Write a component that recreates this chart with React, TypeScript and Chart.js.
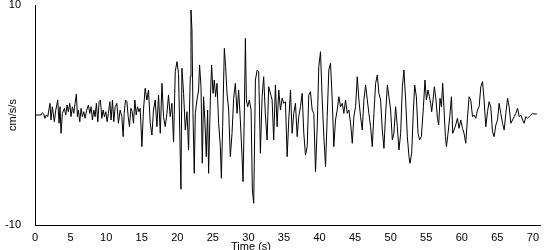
import { useEffect, useRef } from "react";
import { Chart, registerables } from "chart.js";

Chart.register(...registerables);

// Time (s) of each sample
const timeS = [
  0, 0.85, 1.03, 1.23, 1.41, 1.59, 1.79, 2.11, 2.25, 2.44, 2.72, 2.92, 3.2, 3.38, 3.52, 3.66, 3.85, 4.13, 4.32, 4.51, 4.69, 4.89, 5.07, 5.25, 5.45, 5.63, 5.82, 5.96, 6.1, 6.3, 6.48, 6.66, 6.86, 7.04, 7.28, 7.51, 7.7, 7.89, 8.07, 8.27, 8.45, 8.63, 8.83, 9.01, 9.2, 9.39, 9.58, 9.76, 9.96, 10.14, 10.32, 10.52, 10.7, 10.89, 11.08, 11.27, 11.51, 11.73, 11.97, 12.21, 12.39,
  12.54, 12.72, 12.92, 13.1, 13.28, 13.48, 13.66, 13.85, 14.04, 14.23, 14.41, 14.61, 14.79,
  15.03, 15.25, 15.49, 15.73, 15.96, 16.2, 16.44, 16.66, 16.9, 17.14, 17.37, 17.61, 17.85, 18.07, 18.31, 18.55, 18.77, 19.01, 19.25, 19.48, 19.72, 19.96, 20.18, 20.52, 20.66, 20.89, 21.13, 21.37, 21.59, 21.83, 21.93, 22.07, 22.21, 22.39, 22.54, 22.77, 23.0, 23.14, 23.34, 23.52, 23.7, 23.9, 24.08, 24.27, 24.41, 24.65, 24.83, 25.03, 25.21, 25.39, 25.59, 25.82, 26.06, 26.2, 26.38, 26.62, 26.8, 27.0, 27.23, 27.46, 27.7, 27.93, 28.17, 28.41, 28.63, 28.87, 29.11, 29.25, 29.44, 29.58, 29.72, 29.9, 30.14, 30.38, 30.56, 30.75, 30.99, 31.23, 31.45, 31.69, 31.93, 32.15, 32.39, 32.63, 32.86,
  33.34, 33.56, 33.8, 34.04, 34.27, 34.51, 34.75, 34.97, 35.21, 35.45, 35.68, 35.92, 36.15, 36.38, 36.62, 36.86, 37.08, 37.32, 37.56, 37.79, 38.03, 38.27, 38.49, 38.73, 38.97, 39.2, 39.44, 39.68, 39.9, 40.14, 40.38, 40.61, 40.85, 41.08, 41.31, 41.55, 41.79, 42.01, 42.25, 42.49, 42.72, 42.96, 43.2, 43.42, 43.66, 43.9, 44.13, 44.37, 44.61, 44.83, 45.07, 45.31, 45.54, 45.77, 46.01, 46.24, 46.48, 46.72, 46.94, 47.18, 47.42, 47.65, 47.89, 48.13, 48.35, 48.59, 48.83, 49.06, 49.3, 49.54, 49.76, 50.0, 50.24, 50.46, 50.7, 50.94, 51.17, 51.41,
  51.65, 51.87, 52.11, 52.35, 52.58, 52.72, 52.96, 53.2, 53.38, 53.62, 53.85, 54.08, 54.32, 54.61, 54.83, 55.03, 55.25, 55.45, 55.63, 55.77, 55.96, 56.15, 56.38, 56.58, 56.76, 56.94, 57.14, 57.32, 57.51, 57.7, 57.85, 58.07, 58.31, 58.55, 58.73, 58.92, 59.15, 59.39, 59.62, 59.86, 60.1, 60.32, 60.56, 60.8, 61.03, 61.27, 61.51, 61.73, 61.97, 62.21, 62.44, 62.68, 62.92, 63.14, 63.38, 63.62, 63.85, 64.08, 64.32, 64.55, 64.79, 65.03, 65.25, 65.49, 65.73, 65.96, 66.2, 66.44, 66.66, 66.9, 67.14, 67.37, 67.61, 67.85, 68.07, 68.31, 68.55, 68.77, 69.01, 69.25, 69.48, 69.72, 69.96, 70.18, 70.56,
];

// Acceleration (cm/s/s) at each of those times
const accel = [
  0, 0, 0.21, 0.09, -0.3, 0, -0.15, 1.06, -0.45, 0.75, -0.61, 0.45, 1.36, -0.75, 0.75, -1.66, 0.15, 0.61, 0, 0.91, 0.3, 1.06, -0.15, 0.75, 0.15, 1.06, 1.91, -0.15, 0.45, -0.61, 0.61, -0.15, 0.3, -0.3, 0.45, 0.91, 0.15, 0.75, -0.45, 0.45, -0.15, 1.06, -0.61, 1.21, 1.36, -0.3, 0.45, -0.15, 0.3, -0.61, 0.15, 1.21, -0.45, 1.36, -0.61, 0.75, 1.06, -0.75, 0.45, -0.15, -1.97,
  0.15, 1.36, 1.21, -0.15, -1.06, 0.61, 0.3, -0.75, 1.36, 0, 0.75, 0.3, 0.61,
  -2.88, 0.45, 2.43, 1.36, 2.27, -0.75, -1.82, 0.45, 1.36, -1.06, 1.82, -1.66, 2.88, -0.15, -1.06, 0.15, 1.82, -0.15, 1.06, -2.43, 3.94, 4.85, 3.79, -6.75, 4.25, 1.97, -1.36, 0.3, -3.18, 3.48, 9.55, 7.73, 0.15, -5.3, 0.15, 1.36, 2.27, 4.55, 2.57, -4.39, 1.66, -0.75, -3.79, 0.45, -5.3, 1.36, 4.55, 1.97, 3.18, 1.66, 2.88, -0.75, -2.88, -5.75, -1.06, 6.06, 4.39, 1.97, 0.45, -3.79, -1.66, 1.52, 2.88, 0.15, 2.27, -0.45, -3.79, -6.06, 0.45, 6.97, 1.36, 0.75, 1.36, 0.45, -6.82, -8.03, 3.18, 4.09, 3.94, -3.48, 1.66, 3.48, 0, -2.27, 2.57,
  1.36, -2.27, 2.73, -1.06, 2.27, 0.45, 1.52, 1.06, 1.21, -3.79, -0.45, 2.27, -1.66, 0.15, 1.06, -1.97, -0.15, 0.75, 1.97, -1.66, -3.64, -2.88, 1.82, 2.12, 0.45, 0.15, -5.15, -1.06, 4.39, 5.75, 1.36, -1.97, -4.7, -0.15, 4.09, 4.7, 1.36, -2.88, -0.45, 0.45, 1.66, 0.75, 1.06, 0.15, 1.36, 0.15, 0.45, -0.75, -2.57, -0.15, 0.75, 3.48, 1.36, -0.15, -1.36, 1.36, 2.73, 1.36, 0.15, -1.06, -2.88, 0.15, 2.88, 3.64, 1.97, 1.36, -1.36, -3.03, 0.15, 2.73, 1.66, 0.45, -2.27, -1.66, 0.75, -1.06, -3.18, -1.66,
  2.57, 4.09, 1.36, -1.97, -3.79, -4.39, -3.48, 0.45, 2.73, 1.66, -1.66, -2.27, -1.97, 0.75, 3.18, 1.36, 2.27, 1.66, 1.06, 0.3, 1.36, 2.57, 1.36, -0.3, -0.91, 1.52, 0.75, 2.88, 0.45, -1.97, -2.88, -1.66, -0.15, 1.66, -1.66, -1.36, -0.91, -0.3, -1.21, -0.45, -1.21, -1.66, -2.57, -0.3, 1.66, 1.36, -0.15, 0, -0.3, 0.45, 0.75, 2.57, 3.03, 1.36, -1.06, 0.3, 1.21, 0.75, -1.52, -1.97, -0.91, -0.45, 1.06, 0.15, -0.75, -1.36, 0.15, 1.52, 0.75, -0.75, -0.45, -0.15, 0.15, 0.61, -0.15, 0, -0.45, -0.75, -0.15, -0.3, -0.15, 0, 0.15, 0.09, 0.09,
];

const xTicks = [0, 5, 10, 15, 20, 25, 30, 35, 40, 45, 50, 55, 60, 65, 70];
const yTicks = [-10, 10];
const xMin = 0;
const xMax = 71;
const yMin = -10;
const yMax = 10;
const xTitle = "Time (s)";
const yTitle = "cm/s/s";

const FONT_FAMILY = "'Liberation Sans', Arial, sans-serif";

export default function App() {
  const ref = useRef<HTMLCanvasElement>(null);

  useEffect(() => {
    document.body.style.margin = "0";
    const canvas = ref.current;
    if (!canvas) return;
    const n = Math.min(timeS.length, accel.length);
    const points = [];
    for (let i = 0; i < n; i++) points.push({ x: timeS[i], y: accel[i] });

    const font = { family: FONT_FAMILY, size: 11 };

    const titlesPlugin = {
      id: "axisTitles",
      afterDraw(chart: any) {
        const c = chart.ctx;
        const area = chart.chartArea;
        c.save();
        c.fillStyle = "#000";
        c.font = `11px ${FONT_FAMILY}`;
        c.textAlign = "center";
        c.textBaseline = "middle";
        c.translate(12.5, (area.top + area.bottom) / 2);
        c.rotate(-Math.PI / 2);
        c.fillText(yTitle, 0, 0);
        c.restore();
        c.save();
        c.fillStyle = "#000";
        c.font = `11px ${FONT_FAMILY}`;
        c.textAlign = "center";
        c.textBaseline = "top";
        c.fillText(xTitle, 251, 241);
        c.restore();
      },
    };

    const chart = new Chart(canvas, {
      type: "line",
      data: {
        datasets: [
          {
            data: points,
            borderColor: "#000",
            borderWidth: 1,
            pointRadius: 0,
            tension: 0,
            fill: false,
          },
        ],
      },
      options: {
        animation: false,
        responsive: false,
        maintainAspectRatio: false,
        layout: { padding: { top: 5, right: 10, left: 0, bottom: 0 } },
        plugins: {
          legend: { display: false },
          tooltip: { enabled: false },
          title: { display: false },
        },
        scales: {
          x: {
            type: "linear",
            min: xMin,
            max: xMax,
            afterBuildTicks: (s: any) => {
              s.ticks = xTicks.map((v) => ({ value: v }));
            },
            afterFit: (s: any) => {
              s.height = 25;
            },
            grid: { display: false, drawTicks: false },
            border: { display: true, color: "#000", width: 1 },
            ticks: {
              font,
              color: "#000",
              padding: 6,
              maxRotation: 0,
              autoSkip: false,
            },
          },
          y: {
            type: "linear",
            min: yMin,
            max: yMax,
            afterBuildTicks: (s: any) => {
              s.ticks = yTicks.map((v) => ({ value: v }));
            },
            afterFit: (s: any) => {
              s.width = 35;
              s.paddingTop = 0;
              s.paddingBottom = 0;
            },
            grid: { display: false, drawTicks: false },
            border: { display: true, color: "#000", width: 1 },
            ticks: { font, color: "#000", padding: 14, autoSkip: false },
          },
        },
      },
      plugins: [titlesPlugin],
    });

    return () => chart.destroy();
  }, []);

  return (
    <div style={{ width: 550, height: 250 }}>
      <canvas ref={ref} width={550} height={250} style={{ display: "block" }} />
    </div>
  );
}
